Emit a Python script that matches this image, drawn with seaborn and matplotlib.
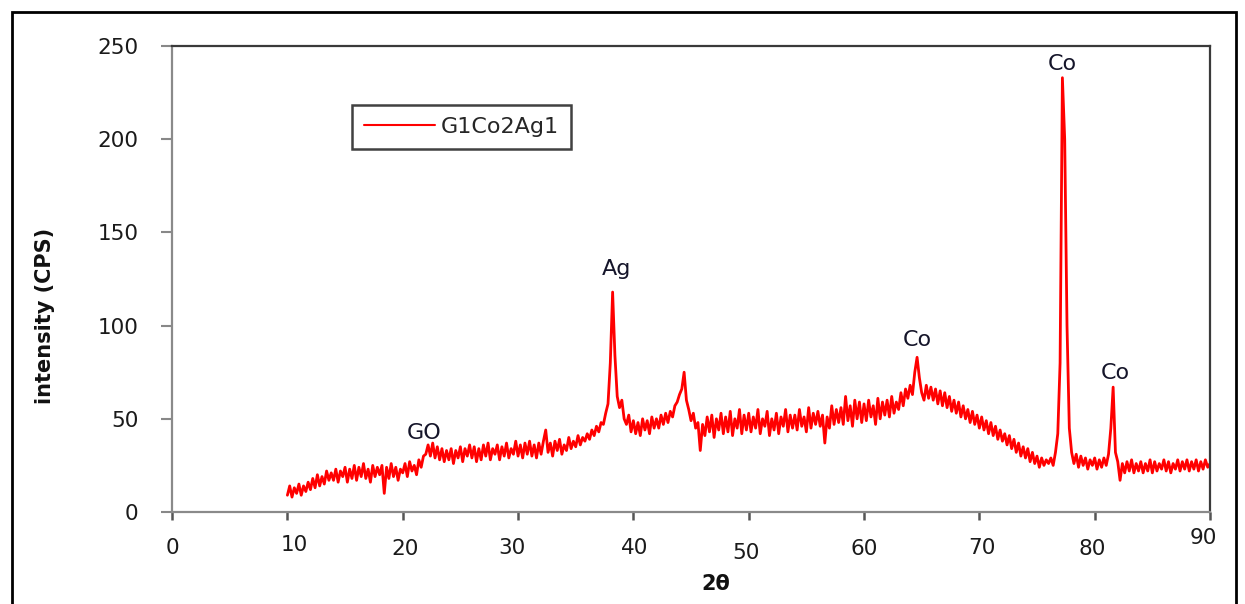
import numpy as np
import pandas as pd
import matplotlib
matplotlib.use("Agg")
import matplotlib.pyplot as plt
import seaborn as sns
from matplotlib.patches import Rectangle

# XRD pattern of G1Co2Ag1 (step 0.2 deg)
two_theta = np.round(np.arange(10.0, 90.01, 0.2), 1)
intensity = [
    9, 14, 8, 13, 10, 15, 9, 14, 11, 16,        # 10
    12, 18, 13, 20, 14, 19, 15, 22, 17, 21,     # 12
    17, 23, 16, 22, 19, 24, 16, 23, 18, 25,     # 14
    17, 24, 19, 26, 18, 23, 16, 25, 19, 24,     # 16
    20, 25, 10, 24, 18, 26, 19, 24, 17, 23,     # 18
    21, 26, 19, 27, 22, 25, 20, 28, 24, 30,     # 20
    31, 36, 30, 37, 29, 35, 28, 34, 27, 33,     # 22
    28, 34, 26, 33, 29, 35, 27, 34, 30, 36,     # 24
    29, 35, 27, 34, 28, 36, 30, 37, 28, 34,     # 26
    31, 36, 28, 35, 30, 37, 29, 34, 31, 38,     # 28
    30, 36, 29, 37, 31, 38, 30, 36, 29, 37,     # 30
    31, 38, 44, 32, 37, 30, 38, 33, 39, 31,     # 32
    36, 33, 40, 34, 38, 35, 41, 36, 40, 38,     # 34
    42, 39, 44, 41, 46, 43, 48, 47, 53, 58,     # 36
    80, 118, 84, 62, 56, 60, 50, 47, 52, 43,    # 38
    49, 42, 48, 41, 50, 44, 49, 42, 51, 45,     # 40
    50, 45, 52, 47, 53, 48, 54, 51, 57, 59,     # 42
    63, 66, 75, 60, 55, 49, 53, 45, 48, 33,     # 44
    47, 41, 51, 43, 52, 40, 50, 44, 53, 42,     # 46
    51, 43, 54, 41, 50, 45, 55, 42, 52, 44,     # 48
    53, 43, 51, 45, 55, 42, 50, 46, 54, 41,     # 50
    50, 44, 53, 42, 51, 46, 55, 43, 52, 45,     # 52
    52, 44, 55, 46, 51, 43, 56, 45, 53, 47,     # 54
    54, 46, 52, 37, 51, 45, 57, 47, 55, 48,     # 56
    56, 47, 62, 49, 57, 46, 60, 50, 59, 48,     # 58
    58, 49, 60, 51, 57, 47, 61, 50, 59, 52,     # 60
    60, 51, 62, 53, 59, 55, 64, 57, 66, 61,     # 62
    68, 63, 75, 83, 72, 64, 60, 68, 61, 67,     # 64
    60, 66, 58, 65, 57, 64, 56, 62, 54, 60,     # 66
    53, 59, 51, 57, 50, 55, 48, 54, 47, 52,     # 68
    45, 51, 44, 49, 42, 48, 41, 46, 39, 44,     # 70
    38, 42, 36, 41, 34, 39, 32, 37, 30, 35,     # 72
    29, 34, 27, 32, 26, 30, 24, 29, 25, 28,     # 74
    26, 29, 25, 32, 42, 80, 233, 200, 100, 45,  # 76
    32, 26, 31, 24, 30, 25, 29, 23, 28, 25,     # 78
    29, 23, 28, 24, 29, 25, 31, 45, 67, 32,     # 80
    27, 17, 26, 21, 27, 22, 28, 21, 26, 22,     # 82
    27, 21, 26, 22, 28, 21, 27, 22, 26, 23,     # 84
    28, 22, 27, 21, 26, 23, 28, 22, 27, 23,     # 86
    28, 22, 27, 23, 28, 22, 27, 23, 28, 24,     # 88
    26,                                         # 90
]
assert len(intensity) == len(two_theta)

peak_labels = ["GO", "Ag", "Co", "Co", "Co"]
peak_x = [21.85, 38.5, 64.65, 77.2, 81.75]
peak_y = [42.4, 130.4, 92.3, 240.5, 74.6]

x_ticks = [0, 10, 20, 30, 40, 50, 60, 70, 80, 90]
y_ticks = [0, 50, 100, 150, 200, 250]

df = pd.DataFrame({"2theta": two_theta, "intensity": intensity})

sns.set_theme(style="white")
plt.rcParams["font.family"] = ["DejaVu Sans"]

fig = plt.figure(figsize=(12.45, 6.04), dpi=100)
ax = fig.add_axes([0.1382, 0.1523, 0.8337, 0.7715])

sns.lineplot(data=df, x="2theta", y="intensity", color="#ff0000", linewidth=2.0,
             estimator=None, sort=False, label="G1Co2Ag1", ax=ax)

ax.set_xlim(0, 90)
ax.set_ylim(0, 250)
ax.set_xticks(x_ticks)
ax.set_xticklabels([])
ax.set_yticks(y_ticks)
ax.set_yticklabels([str(v) for v in y_ticks], fontsize=15.5, color="#1a1a1a")
ax.tick_params(axis="y", direction="out", length=8, width=1.5, color="#888888", pad=16, left=True)
ax.tick_params(axis="x", direction="out", length=6, width=1.8, color="#555555", bottom=True)
ax.set_xlabel("")
ax.set_ylabel("")

for side in ["left", "bottom"]:
    ax.spines[side].set_color("#8a8a8a")
    ax.spines[side].set_linewidth(1.6)
for side in ["top", "right"]:
    ax.spines[side].set_color("#3a3a3a")
    ax.spines[side].set_linewidth(1.6)

# staggered x tick labels as in the original
x_label_pos = {0: (0.0, 36), 10: (10.6, 32.5), 20: (20.2, 37), 30: (29.5, 36),
               40: (40.1, 36), 50: (49.8, 41), 60: (60.0, 37), 70: (70.2, 36),
               80: (79.8, 37), 90: (89.4, 26)}
for t in x_ticks:
    xp, dy = x_label_pos[t]
    ax.annotate(str(t), xy=(xp, 0), xycoords=("data", "axes fraction"),
                xytext=(0, -dy * 0.72), textcoords="offset points",
                ha="center", va="center", fontsize=15.5, color="#1a1a1a",
                annotation_clip=False)

for lab, px, py in zip(peak_labels, peak_x, peak_y):
    ax.text(px, py, lab, ha="center", va="center", fontsize=16, color="#15152a")

leg = ax.legend(loc="upper left", bbox_to_anchor=(352 / 1245, 1 - 105 / 604),
                bbox_transform=fig.transFigure, borderaxespad=0, fancybox=False,
                frameon=True, fontsize=16, handlelength=3.2, handletextpad=0.25,
                borderpad=0.55)
leg.get_frame().set_edgecolor("#111111")
leg.get_frame().set_linewidth(1.8)
for line in leg.get_lines():
    line.set_linewidth(1.5)

fig.text(45 / 1245, 1 - 316 / 604, "intensity (CPS)", rotation=90, ha="center",
         va="center", fontsize=15, fontweight="bold", color="#111111")
fig.text(716 / 1245, 1 - 584 / 604, "2θ", ha="center", va="center",
         fontsize=15, fontweight="bold", color="#111111")

# outer border of the figure
fig.patches.append(Rectangle((12 / 1245, -0.05), (1236 - 12) / 1245, 1.05 - 12 / 604,
                             transform=fig.transFigure, fill=False,
                             edgecolor="black", linewidth=2))

fig.savefig("out.png", dpi=100)
